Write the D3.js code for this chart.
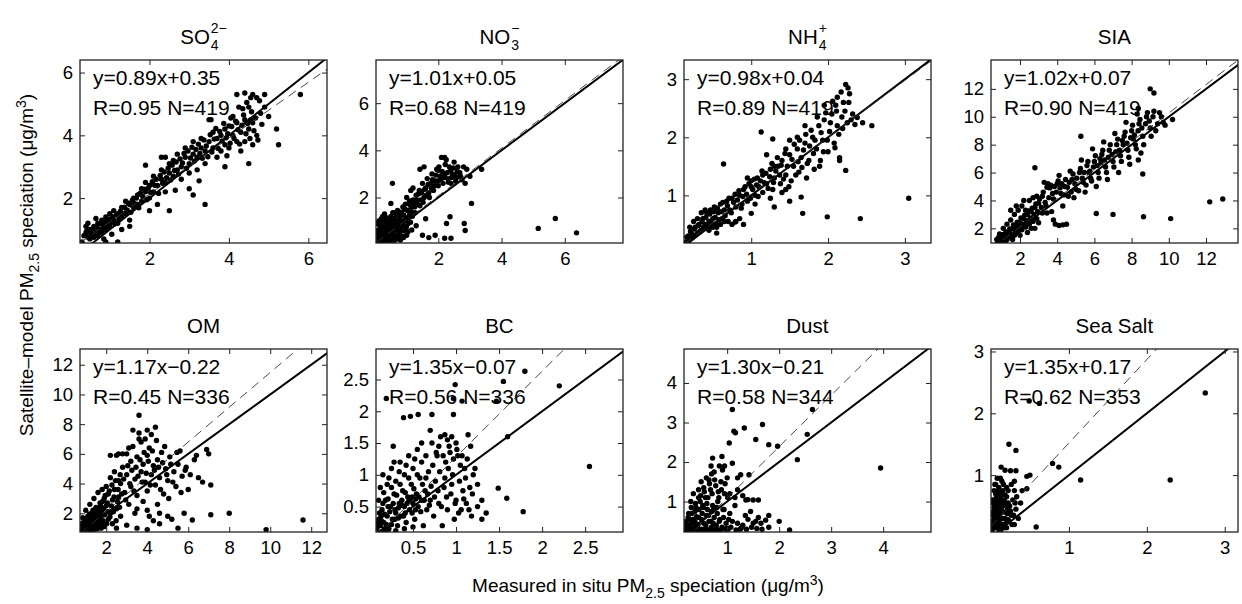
<!DOCTYPE html>
<html><head><meta charset="utf-8">
<script src="https://cdn.jsdelivr.net/npm/d3@7"></script>
<style>
body{margin:0;background:#fff}
text{font-family:"Liberation Sans",Arial,Helvetica,sans-serif;fill:#000}
</style>
</head><body>
<svg id="c" width="1242" height="604"></svg>
<script>
// ---------- data ----------
const titleMain = ["SO","NO","NH","SIA","OM","BC","Dust","Sea Salt"];
const titleSub  = ["4","3","4","","","","",""];
const titleSup  = ["2\u2212","\u2212","+","","","","",""];

const slopes     = [0.89,1.01,0.98,1.02,1.17,1.35,1.30,1.35];
const intercepts = [0.35,0.05,0.04,0.07,-0.22,-0.07,-0.21,0.17];
const rValues    = [0.95,0.68,0.89,0.90,0.45,0.56,0.58,0.62];
const nValues    = [419,419,419,419,336,336,344,353];

const xDomains = [[0.25,6.47],[0.03,7.84],[0.125,3.34],[0.44,13.72],[0.72,12.77],[0.07,2.94],[0.17,4.92],[0,3.17]];
const yDomains = [[0.57,6.4],[0.07,7.83],[0.18,3.33],[0.95,14.07],[0.74,13.06],[0.1,2.98],[0.23,4.86],[0.08,3.04]];
const xTicks = [[2,4,6],[2,4,6],[1,2,3],[2,4,6,8,10,12],[2,4,6,8,10,12],[0.5,1,1.5,2,2.5],[1,2,3,4],[1,2,3]];
const yTicks = [[2,4,6],[2,4,6],[1,2,3],[2,4,6,8,10,12],[2,4,6,8,10,12],[0.5,1,1.5,2,2.5],[1,2,3,4],[1,2,3]];

const so4 = [[0.35,0.8],[0.4,0.9],[0.45,0.75],[0.5,1.0],[0.55,0.85],[0.6,1.1],[0.65,0.9],[0.7,1.2],[0.75,1.0],[0.8,1.3],[0.85,1.1],[0.9,1.4],[0.95,1.2],[1.0,1.5],[0.4,1.1],[0.5,0.7],[0.6,0.75],[0.7,0.8],[0.8,0.9],[0.9,1.0],[1.0,1.1],[1.1,1.3],[1.1,1.6],[1.2,1.5],[1.2,1.2],[1.3,1.7],[1.3,1.4],[1.4,1.9],[1.4,1.5],[1.5,1.8],[1.5,1.3],[1.6,2.0],[1.6,1.7],[1.7,2.1],[1.7,1.8],[1.8,2.3],[1.8,1.9],[1.9,2.2],[1.9,2.5],[2.0,2.0],[2.0,2.4],[2.1,2.7],[2.1,2.2],[2.2,2.4],[2.2,1.8],[2.3,2.6],[2.3,2.9],[2.4,2.5],[2.4,2.2],[2.5,2.8],[2.5,3.1],[2.6,2.7],[2.6,3.2],[2.7,2.9],[2.7,3.4],[2.8,3.0],[2.8,2.6],[2.9,3.3],[2.9,3.6],[3.0,3.1],[3.0,2.8],[3.1,3.4],[3.1,3.8],[3.2,3.3],[3.2,2.9],[3.3,3.6],[3.3,3.9],[3.4,3.5],[3.4,3.1],[3.5,3.8],[3.5,4.5],[3.6,3.6],[3.6,4.1],[3.7,3.9],[3.7,3.3],[3.8,4.0],[3.8,3.5],[3.9,4.2],[3.9,3.7],[4.0,4.3],[4.0,3.6],[4.1,4.0],[4.1,4.6],[4.2,3.8],[4.2,4.4],[4.3,4.1],[4.3,3.5],[4.4,4.5],[4.4,3.8],[4.5,4.2],[4.5,4.9],[4.6,3.7],[4.6,4.4],[4.7,5.2],[4.7,4.0],[4.8,4.7],[4.9,5.3],[4.9,4.9],[5.0,4.6],[5.2,4.2],[5.25,3.7],[5.8,5.3],[4.2,5.3],[4.4,5.35],[4.6,5.3],[3.9,3.0],[3.4,1.8],[3.1,2.1],[2.5,1.6],[1.9,3.05],[2.3,3.3],[2.4,3.3],[1.3,1.0],[1.5,1.1],[1.2,0.6],[0.9,0.6],[4.5,3.1],[3.0,2.3],[2.0,1.6],[0.3,0.6],[0.45,1.2],[0.65,1.35],[0.85,0.7],[1.05,0.85],[3.55,4.5],[4.05,4.55],[4.25,4.9],[4.55,4.5],
[0.42,0.95],[0.52,0.88],[0.58,1.02],[0.63,0.82],[0.68,1.07],[0.73,0.93],[0.77,1.18],[0.83,1.02],[0.87,1.25],[0.93,1.08],[0.97,1.33],[1.03,1.22],[1.07,1.41],[1.13,1.18],[1.17,1.46],[1.23,1.33],[1.27,1.58],[1.33,1.5],[1.37,1.71],[1.43,1.62],[1.47,1.84],[1.53,1.55],[1.57,1.93],[1.63,1.82],[1.67,2.0],[1.73,1.69],[1.77,2.16],[1.83,2.05],[1.87,2.28],[1.93,1.95],[1.97,2.32],[2.03,2.18],[2.07,2.52],[2.13,2.41],[2.17,2.6],[2.23,2.15],[2.27,2.72],[2.33,2.47],[2.37,2.83],[2.43,2.65],[2.47,2.95],[2.53,2.58],[2.57,3.05],[2.63,2.88],[2.67,3.15],[2.73,2.77],[2.77,3.25],[2.83,3.12],[2.87,3.42],[2.93,2.95],[2.97,3.5],[3.03,3.28],[3.07,3.62],[3.13,3.18],[3.17,3.55],[3.23,3.72],[3.27,3.42],[3.33,3.27],[3.37,3.85],[3.43,3.66],[3.47,3.32],[3.53,4.02],[3.57,3.47],[3.63,3.88],[3.67,4.22],[3.73,3.58],[3.77,4.12],[3.83,3.82],[3.87,4.38],[3.93,3.92],[3.97,4.05],[4.03,3.75],[4.07,4.28],[4.13,3.9],[4.17,4.45],[4.23,4.18],[4.27,3.72],[4.33,4.32],[4.37,4.65],[4.43,4.05],[4.47,4.38],[4.53,3.9],[4.57,4.75],[4.63,4.15],[4.67,4.55],[4.73,3.85],[4.77,5.1],[4.83,4.35],[4.45,5.05],[4.55,5.2],[4.35,4.85],[3.95,3.35],[3.25,2.55],[2.65,2.25]];

const no3 = [[0.1,0.1],[0.15,0.3],[0.2,0.15],[0.25,0.5],[0.3,0.2],[0.35,0.7],[0.4,0.35],[0.45,0.9],[0.5,0.15],[0.55,0.6],[0.6,1.1],[0.65,0.4],[0.7,0.8],[0.75,1.3],[0.8,0.2],[0.85,0.6],[0.9,1.0],[0.95,1.5],[1.0,0.4],[1.05,0.9],[1.1,1.3],[0.1,0.5],[0.15,0.8],[0.2,1.1],[0.25,0.05],[0.3,1.3],[0.35,0.4],[0.4,1.0],[0.45,0.25],[0.5,1.2],[0.55,0.3],[0.6,0.05],[0.7,0.25],[0.8,1.0],[0.9,0.3],[0.12,1.0],[0.18,0.6],[0.28,0.85],[0.38,0.15],[0.48,0.55],[0.58,0.85],[0.68,1.25],[0.78,0.5],[0.88,1.6],[0.98,1.1],[1.1,1.7],[0.2,0.4],[0.3,0.55],[0.4,0.7],[0.5,0.85],[0.6,0.6],[0.7,1.0],[0.15,0.15],[0.22,0.7],[0.33,1.0],[0.43,0.45],[0.62,1.35],[0.72,0.35],
[1.15,1.4],[1.2,1.9],[1.25,1.6],[1.3,2.1],[1.35,1.7],[1.4,2.3],[1.45,1.9],[1.5,2.6],[1.55,2.0],[1.6,2.4],[1.65,2.8],[1.7,2.2],[1.75,2.6],[1.8,3.0],[1.85,2.3],[1.9,2.7],[1.95,3.2],[2.0,2.5],[2.05,2.9],[2.1,3.7],[2.15,2.6],[2.2,3.0],[2.25,3.6],[2.3,2.8],[2.35,3.3],[2.4,2.6],[2.45,3.0],[2.5,3.5],[2.55,2.7],[2.6,3.1],[2.7,2.9],[2.8,3.3],[2.85,2.6],[2.9,3.2],[3.0,2.9],[3.37,3.2],[1.42,3.2],[1.55,3.3],[2.0,3.15],[1.2,2.4],[1.0,2.0],[0.5,1.75],[0.55,2.6],[1.13,2.3],[3.05,1.75],[2.2,3.7],
[1.16,0.62],[1.5,0.4],[1.7,0.3],[1.9,0.4],[2.2,0.27],[2.4,0.27],[2.26,0.9],[2.37,1.18],[2.82,0.9],[2.85,0.6],[5.16,0.69],[5.7,1.11],[6.37,0.5],[1.3,0.8],[1.6,1.1],
[0.08,0.22],[0.11,0.38],[0.14,0.62],[0.17,0.45],[0.21,0.27],[0.23,0.92],[0.27,0.64],[0.29,0.38],[0.31,0.77],[0.34,1.15],[0.36,0.52],[0.39,0.28],[0.41,0.86],[0.44,0.62],[0.46,1.05],[0.49,0.38],[0.51,0.72],[0.53,0.95],[0.56,1.35],[0.59,0.45],[0.61,0.78],[0.63,0.22],[0.66,1.02],[0.69,0.62],[0.71,1.45],[0.73,0.88],[0.76,0.42],[0.79,1.15],[0.81,0.7],[0.83,1.38],[0.86,0.35],[0.89,0.82],[0.91,1.25],[0.93,0.58],[0.96,1.72],[0.99,0.75],[1.02,1.45],[1.04,0.55],[1.07,1.18],[1.09,1.85],[1.12,0.95],[1.14,1.6],[1.18,1.2],[1.22,1.75],[1.27,1.35],[1.32,1.9],[1.37,2.15],[1.42,1.65],[1.47,2.2],[1.52,1.8],[1.57,2.35],[1.62,2.1],[1.68,2.55],[1.72,2.0],[1.78,2.4],[1.82,2.75],[1.88,2.5],[1.92,2.95],[1.98,2.7],[2.02,3.3],[2.08,2.75],[2.12,3.1],[2.18,2.85],[2.22,3.4],[2.28,3.05],[2.32,2.65],[2.38,3.15],[2.42,2.85],[2.48,3.25],[2.52,2.95],[2.58,2.85],[2.62,3.3],[2.68,3.05],[2.75,2.75],[0.05,0.3],[0.06,0.6],[0.07,0.9],[0.09,0.12],[0.13,0.2],[0.16,0.05],[0.19,0.85],[0.24,1.2],[0.26,0.18],[0.32,0.05]];

const nh4 = [[0.15,0.2],[0.18,0.3],[0.2,0.25],[0.22,0.35],[0.25,0.3],[0.27,0.45],[0.3,0.35],[0.32,0.5],[0.35,0.4],[0.37,0.6],[0.4,0.5],[0.42,0.7],[0.45,0.55],[0.47,0.75],[0.5,0.6],[0.52,0.8],[0.55,0.5],[0.57,0.7],[0.6,0.85],[0.62,0.6],[0.65,0.75],[0.2,0.45],[0.25,0.55],[0.3,0.6],[0.35,0.7],[0.4,0.75],[0.45,0.4],[0.5,0.45],[0.6,0.5],[0.7,0.55],[0.75,0.5],[0.8,0.55],[0.68,0.9],[0.72,0.75],[0.75,0.95],[0.8,0.8],[0.85,1.0],[0.88,0.85],[0.9,1.1],[0.95,0.9],[1.0,1.15],[1.0,1.25],[1.05,1.0],[1.08,1.3],[1.1,1.15],[1.15,1.05],[1.15,1.35],[1.2,1.2],[1.25,1.45],[1.28,1.1],[1.3,1.3],[1.35,1.5],[1.38,1.2],[1.4,1.6],[1.45,1.35],[1.5,1.7],[1.52,1.25],[1.55,1.5],[1.6,1.8],[1.62,1.4],[1.65,1.65],[1.7,1.9],[1.72,1.3],[1.75,1.6],[1.8,2.0],[1.82,1.45],[1.85,1.8],[1.88,2.2],[1.9,1.6],[1.93,1.95],[1.95,2.3],[2.0,1.75],[2.02,2.1],[2.05,2.4],[2.08,1.9],[2.1,2.55],[2.12,2.2],[2.15,1.65],[2.18,2.35],[2.2,2.6],[2.23,2.91],[2.26,2.85],[2.28,2.75],[2.12,2.69],[2.38,2.34],[2.57,2.2],[2.45,2.25],[2.23,1.43],[2.15,1.6],[1.3,1.5],[1.4,1.05],[1.5,0.9],[1.2,1.7],[1.6,2.0],[1.7,2.2],[1.5,1.95],[1.67,0.69],[1.99,0.63],[2.42,0.6],[0.64,1.54],[1.13,2.09],[1.28,1.97],[1.65,0.97],[1.3,0.8],[1.0,0.69],[0.79,0.54],[0.9,0.5],[3.05,0.95],[0.55,0.35],[0.95,1.3],[1.45,1.8],[1.95,2.55],[2.3,2.3],
[0.16,0.28],[0.19,0.22],[0.21,0.38],[0.23,0.27],[0.26,0.42],[0.28,0.32],[0.31,0.48],[0.33,0.38],[0.36,0.55],[0.38,0.45],[0.41,0.62],[0.43,0.48],[0.46,0.68],[0.48,0.52],[0.51,0.72],[0.53,0.62],[0.56,0.78],[0.58,0.58],[0.61,0.72],[0.63,0.88],[0.66,0.65],[0.69,0.82],[0.71,0.95],[0.74,0.7],[0.77,0.88],[0.79,1.02],[0.82,0.92],[0.84,1.08],[0.87,0.78],[0.89,0.98],[0.92,1.15],[0.94,1.02],[0.97,1.2],[0.99,0.95],[1.02,1.1],[1.04,1.28],[1.07,1.18],[1.09,0.98],[1.12,1.25],[1.14,1.42],[1.17,1.22],[1.19,1.38],[1.22,1.12],[1.24,1.32],[1.27,1.55],[1.29,1.22],[1.32,1.42],[1.34,1.65],[1.37,1.35],[1.39,1.52],[1.42,1.28],[1.44,1.72],[1.47,1.5],[1.49,1.15],[1.53,1.62],[1.56,1.88],[1.58,1.35],[1.61,1.58],[1.63,1.95],[1.66,1.48],[1.68,1.78],[1.71,2.05],[1.73,1.55],[1.76,1.85],[1.78,2.12],[1.81,1.72],[1.83,1.95],[1.86,2.35],[1.89,1.5],[1.91,2.08],[1.94,1.75],[1.97,2.42],[1.99,1.95],[2.03,2.25],[2.06,2.62],[2.09,1.82],[2.11,2.45],[2.14,2.05],[2.17,2.78],[2.19,2.15],[2.22,2.45],[2.25,2.25],[2.27,2.6],[2.32,2.4],[2.35,2.22],[0.55,0.45],[0.65,0.55],[0.85,0.6],[1.05,0.85],[1.25,0.95],[1.45,1.1]];

const sia = [[0.8,1.0],[1.0,1.3],[1.1,1.1],[1.2,1.6],[1.3,1.2],[1.4,1.8],[1.5,1.4],[1.6,2.0],[1.7,1.5],[1.8,2.2],[1.9,1.7],[2.0,2.4],[2.1,1.9],[2.2,2.7],[2.3,2.1],[2.4,3.0],[2.5,2.3],[2.6,3.2],[2.7,2.5],[2.8,3.5],[2.9,2.7],[3.0,3.8],[0.9,1.6],[1.1,2.0],[1.3,2.3],[1.5,2.6],[1.7,3.0],[1.9,3.3],[2.1,3.6],[2.3,3.3],[2.5,4.0],[2.7,4.2],[1.2,1.0],[1.6,1.2],[2.0,1.5],[2.4,1.7],[2.8,2.0],[3.2,3.1],
[3.2,4.3],[3.4,3.6],[3.6,4.9],[3.8,4.1],[4.0,5.2],[4.2,4.5],[4.4,5.0],[4.6,4.3],[4.8,5.5],[5.0,4.8],[5.2,6.0],[5.4,5.3],[5.6,6.5],[5.8,5.6],[6.0,6.8],[6.2,6.0],[6.4,7.3],[6.6,6.4],[6.8,7.6],[7.0,6.8],[7.2,8.0],[7.4,7.2],[7.6,8.6],[7.8,7.6],[8.0,9.0],[8.2,8.0],[8.4,9.5],[8.6,8.6],[8.8,10.0],[9.0,9.2],[9.2,10.4],[9.4,9.5],[9.6,10.0],[3.5,5.2],[4.1,5.8],[4.7,6.1],[5.3,6.9],[5.9,7.7],[6.5,8.2],[7.1,8.8],[7.7,9.6],[8.3,10.2],[3.7,3.2],[4.3,3.6],[4.9,4.2],[5.5,4.6],[6.1,5.0],[6.7,5.5],[7.3,6.0],[7.9,6.6],[8.5,7.4],
[9.0,12.0],[9.2,11.7],[8.36,10.6],[2.8,6.35],[5.27,8.6],[6.1,3.07],[7.0,3.0],[8.64,2.83],[8.6,5.9],[8.36,6.9],[3.9,2.3],[4.1,2.2],[4.3,2.25],[4.5,2.3],[3.8,2.6],[3.45,3.1],[10.1,2.7],[12.2,3.9],[12.9,4.1],[9.8,9.4],[10.2,9.8],[6.3,7.0],[7.5,8.3],[8.1,8.4],[5.7,6.0],
[0.75,1.2],[0.85,1.35],[0.95,1.1],[1.05,1.55],[1.15,1.25],[1.25,1.75],[1.35,1.45],[1.45,1.95],[1.55,1.6],[1.65,2.25],[1.75,1.85],[1.85,2.45],[1.95,2.05],[2.05,2.75],[2.15,2.3],[2.25,2.95],[2.35,2.55],[2.45,3.25],[2.55,2.75],[2.65,3.45],[2.75,3.0],[2.85,3.75],[2.95,3.2],[3.05,4.1],[3.15,3.5],[3.25,4.6],[3.35,3.85],[3.45,4.95],[3.55,4.2],[3.65,5.1],[3.75,4.5],[3.85,5.0],[3.95,4.6],[4.05,5.4],[4.15,4.9],[4.25,5.2],[4.35,4.4],[4.45,5.5],[4.55,4.95],[4.65,5.3],[4.75,4.6],[4.85,5.9],[4.95,5.2],[5.05,5.6],[5.15,4.7],[5.25,6.3],[5.35,5.6],[5.45,6.0],[5.55,5.1],[5.65,6.8],[5.75,6.1],[5.85,5.4],[5.95,6.4],[6.05,7.2],[6.15,6.5],[6.25,5.6],[6.35,6.7],[6.45,7.6],[6.55,6.9],[6.65,6.0],[6.75,7.1],[6.85,8.0],[6.95,7.3],[7.05,6.4],[7.15,7.5],[7.25,8.4],[7.35,7.6],[7.45,6.8],[7.55,8.0],[7.65,8.9],[7.75,8.1],[7.85,7.1],[7.95,8.5],[8.05,9.4],[8.15,8.7],[8.25,7.7],[8.35,9.0],[8.45,9.8],[8.55,9.2],[8.65,8.0],[8.75,9.5],[8.85,10.3],[8.95,9.7],[9.05,8.6],[9.15,10.0],[9.3,9.0],[9.5,10.3],[9.7,9.6],[1.5,3.3],[1.8,3.6],[2.2,4.0],[2.9,4.3],[3.3,5.3],[3.0,2.4],[2.6,2.0]];

const om = [[0.8,0.9],[0.9,1.2],[1.0,1.5],[1.0,1.0],[1.1,1.8],[1.2,1.3],[1.3,2.0],[1.3,1.0],[1.4,1.6],[1.5,2.4],[1.5,1.2],[1.6,1.9],[1.7,2.7],[1.7,1.4],[1.8,2.2],[1.9,3.0],[1.9,1.1],[2.0,2.5],[2.1,1.6],[2.1,3.3],[2.2,2.0],[2.3,2.9],[2.3,1.3],[2.4,3.6],[2.5,2.3],[2.5,1.0],[2.6,3.1],[2.7,4.0],[2.7,1.8],[0.85,1.7],[1.0,2.2],[1.2,2.6],[1.4,3.0],[1.6,3.4],[1.8,3.6],[2.0,3.8],[2.2,4.4],[0.9,0.8],[1.1,1.4],[1.2,0.9],[1.4,1.1],[1.6,1.5],[1.8,1.2],
[2.4,4.8],[2.5,5.9],[2.6,4.2],[2.8,5.1],[2.9,3.4],[3.0,6.0],[3.0,4.6],[3.1,2.6],[3.2,5.5],[3.2,3.8],[3.3,6.5],[3.4,4.3],[3.4,2.0],[3.5,5.8],[3.5,3.2],[3.6,8.6],[3.6,7.4],[3.7,4.8],[3.7,6.8],[3.8,5.3],[3.8,2.8],[3.9,7.0],[3.9,4.1],[4.0,5.9],[4.0,3.5],[4.1,6.4],[4.1,1.8],[4.2,4.6],[4.2,7.3],[4.3,5.2],[4.3,1.5],[4.4,7.8],[4.4,3.9],[4.5,5.6],[4.5,2.6],[4.6,4.4],[4.7,6.1],[4.8,3.3],[4.9,5.0],[5.0,4.2],[5.1,5.8],[5.2,1.6],[5.3,4.8],[5.4,3.8],[5.5,5.3],[5.6,6.2],[5.7,4.5],[5.8,2.0],[5.9,5.1],[6.0,3.6],[6.2,1.55],[6.3,5.6],[6.5,4.4],[6.7,4.1],[6.9,6.3],[7.0,6.0],[7.1,3.9],[7.1,1.9],[8.0,2.0],[9.8,0.9],[11.6,1.55],[3.0,1.2],[3.5,1.0],[4.0,0.9],[4.6,1.3],[5.5,1.0],[2.8,6.0],[3.3,7.6],
[0.78,1.1],[0.82,1.3],[0.88,1.05],[0.92,1.45],[0.95,0.85],[1.02,1.25],[1.05,1.65],[1.08,0.95],[1.12,1.15],[1.15,1.55],[1.18,1.95],[1.22,1.1],[1.25,1.45],[1.28,1.75],[1.32,1.25],[1.35,2.2],[1.38,0.9],[1.42,1.85],[1.45,1.35],[1.48,2.1],[1.52,1.65],[1.55,0.95],[1.58,2.3],[1.62,1.25],[1.65,2.0],[1.68,1.7],[1.72,2.5],[1.75,1.0],[1.78,1.85],[1.82,2.8],[1.85,1.5],[1.88,2.35],[1.92,1.9],[1.95,3.2],[2.02,1.3],[2.05,2.7],[2.08,2.1],[2.15,3.5],[2.18,1.75],[2.25,2.5],[2.28,3.9],[2.35,2.1],[2.38,3.1],[2.45,4.2],[2.48,1.5],[2.55,2.8],[2.58,3.6],[2.65,2.4],[2.68,4.6],[2.75,3.3],[2.85,4.3],[2.95,2.9],[3.05,5.2],[3.15,4.0],[3.25,4.9],[3.35,3.5],[3.45,5.1],[3.55,4.5],[3.65,5.6],[3.75,4.1],[3.85,6.1],[3.95,4.7],[4.05,5.5],[4.15,3.9],[4.25,6.2],[4.35,4.9],[4.45,6.9],[4.55,5.1],[4.65,3.6],[4.75,5.4],[4.85,6.5],[4.95,4.6],[5.05,3.0],[5.15,5.3],[5.25,4.1],[5.45,6.1],[5.65,3.4],[5.85,4.9],[6.1,4.6],[6.4,5.9],[2.2,5.9],[2.6,6.0],[3.1,6.4],[3.6,7.0],[4.0,7.6],[3.5,2.3],[4.0,2.2],[4.6,2.0],[5.0,1.8]];

const bc = [[0.08,0.15],[0.1,0.3],[0.12,0.2],[0.14,0.45],[0.16,0.25],[0.18,0.6],[0.2,0.35],[0.22,0.15],[0.24,0.5],[0.26,0.3],[0.28,0.7],[0.3,0.4],[0.32,0.2],[0.34,0.55],[0.36,0.35],[0.38,0.75],[0.4,0.5],[0.42,0.25],[0.44,0.65],[0.46,0.45],[0.48,0.85],[0.5,0.55],[0.52,0.3],[0.54,0.7],[0.56,0.5],[0.58,0.95],[0.6,0.6],[0.62,0.2],[0.64,0.75],[0.66,0.45],[0.68,1.05],[0.1,0.6],[0.12,0.8],[0.15,1.0],[0.2,0.85],[0.25,1.1],[0.3,0.9],[0.35,1.2],[0.4,1.0],[0.45,1.3],[0.5,1.1],[0.55,1.4],[0.6,1.2],[0.14,0.1],[0.2,0.12],[0.3,0.12],[0.4,0.15],[0.5,0.18],[0.1,0.2],[0.13,0.35],[0.17,0.15],[0.21,0.5],[0.25,0.22],[0.29,0.45],[0.33,0.32],[0.37,0.6],[0.41,0.4],[0.45,0.58],[0.49,0.65],[0.53,0.45],
[0.7,0.6],[0.72,1.5],[0.74,0.35],[0.76,0.9],[0.78,1.3],[0.8,0.55],[0.82,1.6],[0.84,0.2],[0.86,0.8],[0.88,1.2],[0.9,0.45],[0.92,1.45],[0.94,0.7],[0.96,1.0],[0.98,0.3],[1.0,0.6],[1.02,1.3],[1.04,0.9],[1.06,0.45],[1.08,0.75],[1.1,1.1],[1.12,0.55],[1.14,1.63],[1.16,0.8],[1.18,0.35],[1.2,1.0],[0.19,2.2],[0.39,1.9],[0.47,1.92],[0.56,1.95],[0.72,1.95],[0.97,1.95],[0.99,2.42],[0.97,2.2],[1.07,2.16],[1.55,2.47],[1.8,2.63],[2.2,2.4],[1.47,2.16],[1.6,1.6],[0.87,1.63],[0.27,1.45],[2.55,1.13],[1.78,0.42],[1.59,0.63],[1.49,0.79],[1.3,0.3],[1.25,0.5],[0.7,1.7],
[0.09,0.25],[0.11,0.4],[0.13,0.28],[0.15,0.55],[0.17,0.38],[0.19,0.22],[0.21,0.62],[0.23,0.42],[0.25,0.8],[0.27,0.55],[0.29,0.3],[0.31,0.68],[0.33,0.48],[0.35,0.85],[0.37,0.52],[0.39,0.35],[0.41,0.72],[0.43,0.55],[0.45,0.95],[0.47,0.6],[0.49,0.4],[0.51,0.78],[0.53,0.62],[0.55,1.0],[0.57,0.65],[0.59,0.42],[0.61,0.85],[0.63,0.6],[0.65,0.95],[0.67,0.7],[0.69,0.52],[0.71,0.82],[0.73,1.15],[0.75,0.65],[0.77,1.35],[0.79,0.75],[0.81,1.05],[0.83,0.5],[0.85,1.3],[0.87,0.95],[0.89,0.65],[0.91,1.1],[0.93,1.35],[0.95,0.85],[0.97,1.25],[0.99,0.55],[1.01,1.4],[1.03,0.4],[1.05,1.15],[1.07,1.3],[1.09,0.62],[1.11,0.95],[1.13,1.25],[1.15,0.45],[1.17,1.45],[1.19,0.7],[0.9,1.55],[0.95,1.6],[1.0,1.5],[0.8,1.45],[0.65,1.3],[0.6,1.5],[1.22,1.1],[1.25,0.85],[1.3,0.6],[1.35,0.4],[0.16,0.72],[0.22,0.95],[0.28,1.2],[0.34,1.05],[0.42,1.15],[0.52,1.25]];

const dust = [[0.2,0.25],[0.22,0.4],[0.25,0.3],[0.28,0.55],[0.3,0.35],[0.32,0.7],[0.35,0.28],[0.38,0.5],[0.4,0.85],[0.42,0.35],[0.45,0.6],[0.48,1.0],[0.5,0.3],[0.52,0.7],[0.55,0.45],[0.58,1.1],[0.6,0.3],[0.62,0.8],[0.65,0.5],[0.68,1.3],[0.7,0.35],[0.72,0.9],[0.75,0.6],[0.78,1.4],[0.8,0.3],[0.82,1.0],[0.85,0.5],[0.88,1.5],[0.9,0.35],[0.92,0.8],[0.95,1.2],[0.98,0.45],[1.0,1.6],[1.02,0.3],[0.3,1.0],[0.35,1.2],[0.4,0.4],[0.45,1.3],[0.5,1.5],[0.55,0.25],[0.6,1.6],[0.65,0.28],[0.7,1.7],[0.75,0.28],[0.25,0.6],[0.33,0.45],[0.43,0.25],[0.53,0.9],[0.63,1.1],[0.73,0.45],[0.83,1.25],[0.93,0.6],[0.6,0.65],[0.7,0.75],[0.8,0.85],
[0.69,1.9],[0.72,2.1],[0.9,2.14],[1.1,1.97],[1.1,3.33],[1.13,2.78],[1.16,2.74],[1.33,2.86],[1.04,2.48],[0.95,1.9],[1.68,2.95],[1.55,2.57],[1.8,2.44],[1.97,2.4],[2.64,3.33],[2.54,2.7],[2.35,2.06],[1.26,1.68],[1.42,1.68],[1.36,1.04],[1.5,1.04],[1.6,1.04],[1.2,1.3],[1.05,1.2],[1.74,0.53],[2.0,0.5],[2.2,0.28],[1.1,0.5],[1.2,0.45],[1.3,0.4],[1.4,0.55],[1.5,0.45],[1.6,0.6],[1.05,0.7],[1.15,0.9],[1.25,0.3],[3.95,1.85],
[0.18,0.3],[0.21,0.5],[0.23,0.35],[0.26,0.7],[0.29,0.42],[0.31,0.85],[0.34,0.55],[0.36,0.32],[0.39,0.95],[0.41,0.62],[0.44,0.42],[0.46,0.8],[0.49,1.15],[0.51,0.55],[0.54,0.85],[0.56,1.25],[0.59,0.4],[0.61,0.95],[0.64,0.65],[0.66,1.45],[0.69,0.5],[0.71,1.2],[0.74,0.85],[0.76,1.55],[0.79,0.4],[0.81,0.7],[0.84,1.1],[0.86,0.55],[0.89,1.3],[0.91,1.8],[0.94,0.8],[0.96,1.45],[0.99,0.32],[1.01,1.1],[1.03,0.55],[0.27,0.28],[0.37,0.26],[0.47,0.28],[0.57,0.3],[0.67,0.25],[0.77,0.32],[0.87,0.27],[0.97,0.3],[1.07,0.35],[1.17,0.28],[1.27,0.33],[1.37,0.3],[1.47,0.35],[1.57,0.32],[1.67,0.3],[1.8,0.35],[0.65,1.55],[0.75,1.75],[0.85,1.9],[0.55,1.35],[0.45,1.1],[0.38,0.75],[1.2,1.6],[1.3,1.15],[1.4,1.05],[1.15,1.1],[1.35,0.65],[1.45,0.75],[1.55,0.5],[1.65,0.45],[1.8,0.65]];

const seasalt = [[0.02,0.12],[0.03,0.2],[0.04,0.3],[0.05,0.15],[0.06,0.4],[0.07,0.25],[0.08,0.5],[0.09,0.18],[0.1,0.35],[0.11,0.6],[0.12,0.22],[0.13,0.45],[0.14,0.7],[0.15,0.3],[0.16,0.55],[0.17,0.15],[0.18,0.4],[0.2,0.65],[0.22,0.28],[0.24,0.5],[0.26,0.35],[0.03,0.55],[0.04,0.75],[0.05,0.6],[0.06,0.85],[0.08,0.7],[0.1,0.8],[0.12,0.95],[0.14,0.9],[0.02,0.4],[0.05,0.45],[0.07,0.65],[0.09,0.55],[0.11,0.28],[0.13,0.12],[0.15,0.5],[0.19,0.22],[0.21,0.45],[0.28,0.6],[0.3,0.2],[0.32,0.45],
[0.23,1.5],[0.32,1.4],[0.13,1.13],[0.18,1.08],[0.25,1.07],[0.32,1.07],[0.46,0.98],[0.5,1.0],[0.46,0.78],[0.2,0.8],[0.3,0.75],[0.33,0.65],[0.79,1.19],[0.87,1.13],[1.15,0.92],[0.62,2.16],[0.49,2.2],[0.58,0.16],[2.3,0.92],[2.75,2.33],
[0.01,0.25],[0.02,0.6],[0.03,0.35],[0.04,0.15],[0.05,0.85],[0.06,0.25],[0.07,0.45],[0.08,0.3],[0.09,0.75],[0.1,0.12],[0.11,0.45],[0.12,0.65],[0.13,0.3],[0.14,0.5],[0.15,0.75],[0.16,0.2],[0.17,0.6],[0.18,0.3],[0.19,0.52],[0.2,0.15],[0.21,0.38],[0.22,0.55],[0.23,0.25],[0.25,0.42],[0.27,0.2],[0.29,0.35],[0.31,0.55],[0.02,0.18],[0.04,0.48],[0.06,0.7],[0.08,0.95],[0.1,0.55],[0.12,0.38],[0.14,0.2],[0.16,0.85],[0.18,0.68],[0.22,0.75],[0.26,0.85],[0.3,0.9],[0.35,0.3],[0.38,0.55],[0.4,0.75]];

const datasets = [so4, no3, nh4, sia, om, bc, dust, seasalt];

// ---------- layout ----------
const svg = d3.select("#c");
const colLeft = [80, 376, 684, 991];
const rowTop = [60, 349];
const W = 247, H = 183;
const defs = svg.append("defs");

datasets.forEach((pts, i) => {
  const r = Math.floor(i / 4), c = i % 4;
  const g = svg.append("g").attr("transform", `translate(${colLeft[c]},${rowTop[r]})`);
  const x = d3.scaleLinear().domain(xDomains[i]).range([0, W]);
  const y = d3.scaleLinear().domain(yDomains[i]).range([H, 0]);

  defs.append("clipPath").attr("id", "clip" + i)
    .append("rect").attr("width", W).attr("height", H);
  const plot = g.append("g").attr("clip-path", `url(#clip${i})`);

  plot.selectAll("circle").data(pts).enter().append("circle")
    .attr("cx", d => x(d[0])).attr("cy", d => y(d[1])).attr("r", 2.7).attr("fill", "#000");

  // 1:1 line
  const lo = Math.min(xDomains[i][0], yDomains[i][0]);
  const hi = Math.max(xDomains[i][1], yDomains[i][1]);
  plot.append("line")
    .attr("x1", x(lo)).attr("y1", y(lo)).attr("x2", x(hi)).attr("y2", y(hi))
    .attr("stroke", "#000").attr("stroke-width", 2);
  // regression line
  const f = v => slopes[i] * v + intercepts[i];
  plot.append("line")
    .attr("x1", x(xDomains[i][0])).attr("y1", y(f(xDomains[i][0])))
    .attr("x2", x(xDomains[i][1])).attr("y2", y(f(xDomains[i][1])))
    .attr("stroke", "#333").attr("stroke-width", 0.9).attr("stroke-dasharray", "9,6");

  // axes with inward ticks on all sides
  const fmt = d => String(d);
  const ax = g.append("g").attr("transform", `translate(0,${H})`)
    .call(d3.axisBottom(x).tickValues(xTicks[i]).tickFormat(fmt).tickSizeInner(-5).tickSizeOuter(0).tickPadding(9));
  const at = g.append("g")
    .call(d3.axisTop(x).tickValues(xTicks[i]).tickFormat("").tickSizeInner(-5).tickSizeOuter(0));
  const al = g.append("g")
    .call(d3.axisLeft(y).tickValues(yTicks[i]).tickFormat(fmt).tickSizeInner(-5).tickSizeOuter(0).tickPadding(7));
  const ar = g.append("g").attr("transform", `translate(${W},0)`)
    .call(d3.axisRight(y).tickValues(yTicks[i]).tickFormat("").tickSizeInner(-5).tickSizeOuter(0));
  [ax, at, al, ar].forEach(a => {
    a.select(".domain").remove();
    a.attr("font-family", null).attr("font-size", null);
    a.selectAll("line").attr("stroke", "#222");
    a.selectAll("text").style("font-size", "18.5px");
  });

  g.append("rect").attr("width", W).attr("height", H)
    .attr("fill", "none").attr("stroke", "#222").attr("stroke-width", 1.3);

  // annotation
  const b = intercepts[i];
  const eq = `y=${slopes[i].toFixed(2)}x${b < 0 ? "\u2212" : "+"}${Math.abs(b).toFixed(2)}`;
  g.append("text").attr("x", 13).attr("y", 25).style("font-size", "21px").text(eq);
  g.append("text").attr("x", 13).attr("y", 55).style("font-size", "21px")
    .text(`R=${rValues[i].toFixed(2)} N=${nValues[i]}`);

  // title
  const tg = g.append("g");
  const t = tg.append("text").attr("y", -16).style("font-size", "20.5px").text(titleMain[i]);
  const tw = t.node().getComputedTextLength();
  if (titleSub[i]) {
    tg.append("text").attr("x", tw + 1).attr("y", -10).style("font-size", "14px").text(titleSub[i]);
    tg.append("text").attr("x", tw + 1).attr("y", -27).style("font-size", "14px").text(titleSup[i]);
  }
  const bw = tg.node().getBBox().width;
  tg.attr("transform", `translate(${W / 2 - bw / 2},0)`);
});

// axis labels
const xl = svg.append("text").attr("x", 648).attr("y", 592).attr("text-anchor", "middle").style("font-size", "19px");
xl.append("tspan").text("Measured in situ PM");
xl.append("tspan").attr("dy", 6).style("font-size", "14px").text("2.5");
xl.append("tspan").attr("dy", -6).text(" speciation (\u03bcg/m");
xl.append("tspan").attr("dy", -7).style("font-size", "14px").text("3");
xl.append("tspan").attr("dy", 7).text(")");

const yl = svg.append("text").attr("transform", "translate(33,265) rotate(-90)").attr("text-anchor", "middle").style("font-size", "19px");
yl.append("tspan").text("Satellite\u2013model PM");
yl.append("tspan").attr("dy", 6).style("font-size", "14px").text("2.5");
yl.append("tspan").attr("dy", -6).text(" speciation (\u03bcg/m");
yl.append("tspan").attr("dy", -7).style("font-size", "14px").text("3");
yl.append("tspan").attr("dy", 7).text(")");
</script>
</body></html>
